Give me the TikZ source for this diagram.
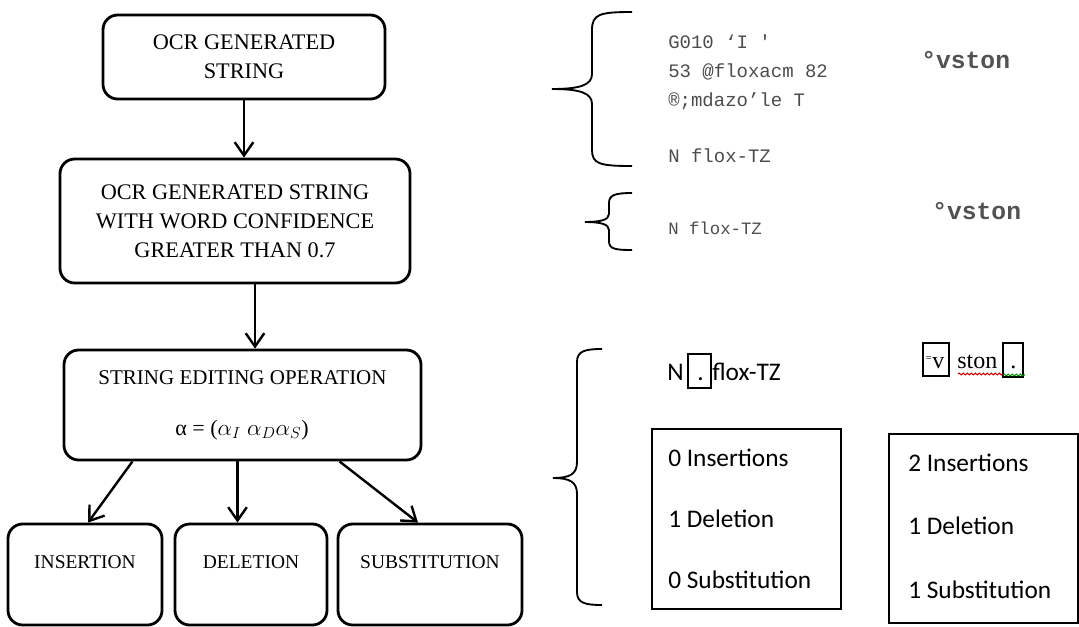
\documentclass[tikz,border=0pt]{standalone}
\usepackage{fontspec}
\setmainfont{Liberation Serif}
\setmonofont{Liberation Mono}
\newfontfamily\calib{Carlito}
\usetikzlibrary{arrows.meta,calc,decorations.pathmorphing}
\begin{document}
\begin{tikzpicture}[x=0.75pt,y=-0.75pt,
  box/.style={draw, line width=2.1pt, rounded corners=11pt, inner sep=0pt},
  flow/.style={-{Straight Barb[length=10pt,width=14pt,line width=1.8pt]}, line width=1.8pt},
  big/.style={font=\fontsize{16.7}{21.75}\selectfont, align=center, inner sep=0pt},
  mid/.style={font=\fontsize{15.75}{20}\selectfont, align=center, inner sep=0pt},
  small/.style={font=\fontsize{14.6}{18}\selectfont, inner sep=0pt},
  bracepath/.style={line width=1.4pt},
  ocr/.style={font=\ttfamily\fontsize{14.25}{17}\selectfont, text=black!70, anchor=base west, inner sep=0pt},
  ocrbig/.style={font=\ttfamily\bfseries\fontsize{18.5}{20}\selectfont, text=black!68, anchor=base west, inner sep=0pt},
  cal/.style={font=\calib\fontsize{19}{22}\selectfont, anchor=base west, inner sep=0pt},
  rbox/.style={draw, line width=1.4pt, inner sep=0pt},
  mark box/.style={draw, line width=1.4pt, inner sep=0pt},
  wavy/.style={line width=0.8pt, decorate, decoration={snake, amplitude=0.7pt, segment length=3pt}}
]
\useasboundingbox (0,0) rectangle (1079,626);

% flow boxes
\node[box, minimum width=211.5pt, minimum height=63pt] (ocr) at (244,57) {};
\node[big] (ocrt) at (ocr.center) {OCR GENERATED\\STRING};
\node[box, minimum width=262.5pt, minimum height=93pt] (conf) at (235,221) {};
\node[big] (conft) at (conf.center) {OCR GENERATED STRING\\WITH WORD CONFIDENCE\\GREATER THAN 0.7};
\node[box, minimum width=267.75pt, minimum height=82.5pt] (op) at (242.5,405) {};
\node[mid] (opt) at (242.5,378) {STRING EDITING OPERATION};
\node[mid, font=\fontsize{16.5}{20}\selectfont] (opf) at (242,430) {α = ($\alpha_I\;\alpha_D\alpha_S$)};
\node[box, minimum width=115.5pt, minimum height=75.75pt] (ins) at (85,574.5) {};
\node[small] (inst) at (85,562) {INSERTION};
\node[box, minimum width=114pt, minimum height=75.75pt] (del) at (251,574.5) {};
\node[small] (delt) at (251,562) {DELETION};
\node[box, minimum width=138pt, minimum height=75.75pt] (sub) at (430,574.5) {};
\node[small] (subt) at (430,562) {SUBSTITUTION};

% connectors
\draw[flow] (ocr.south) -- (ocr.south |- conf.north);
\coordinate (c2) at ($(conf.south)+(20,0)$);
\draw[flow] (c2) -- (c2 |- op.north);
\draw[flow] ($(op.south)+(-110,0)$) -- ($(ins.north)+(3,0)$);
\coordinate (c3) at ($(op.south)+(-5,0)$);
\draw[flow] (c3) -- (c3 |- del.north);
\draw[flow] ($(op.south)+(97,0)$) -- ($(sub.north)+(-12,0)$);

% braces
\draw[bracepath] (632,12) .. controls (600,12) and (592,14) .. (592,30) -- (592,74)
  .. controls (592,85) and (580,89) .. (552,89)
  .. controls (580,89) and (592,93) .. (592,104) -- (592,150)
  .. controls (592,164) and (600,166) .. (632,166);
\draw[bracepath] (632,193) .. controls (615,193) and (609,195) .. (609,203) -- (609,214)
  .. controls (609,220) and (600,222) .. (585,222)
  .. controls (600,222) and (609,224) .. (609,230) -- (609,241)
  .. controls (609,249) and (615,250) .. (632,250);
\draw[bracepath] (602,349) .. controls (585,349) and (577,351) .. (577,362) -- (577,462)
  .. controls (577,474) and (570,478) .. (553,478)
  .. controls (570,478) and (577,482) .. (577,494) -- (577,592)
  .. controls (577,603) and (585,605) .. (602,605);

% OCR texts
\node[ocr] (l1) at (668,48) {G010 ‘I '};
\node[ocr] (l2) at (668,77) {53 @floxacm 82};
\node[ocr] (l3) at (668,106) {®;mdazo’le T};
\node[ocr] (l4) at (668,162) {N flox-TZ};
\node[ocrbig] (v1) at (921,68) {°vston};
\node[ocr, font=\ttfamily\fontsize{13}{15}\selectfont] (l5) at (668,234) {N flox-TZ};
\node[ocrbig] (v2) at (932,219) {°vston};

% edited strings
\node[cal] (n1) at (667,380) {N};
\node[mark box, minimum width=17.25pt, minimum height=25.5pt] (d1) at (699.5,371) {};
\node[cal] (d1t) at (697,380) {.};
\node[cal] (f1) at (712,380) {flox-TZ};
\node[mark box, minimum width=19.5pt, minimum height=24.75pt] (ev) at (936,359.5) {};
\node[font=\fontsize{8}{8}\selectfont, inner sep=0pt] (eq) at (928.5,359) {=};
\node[font=\fontsize{18}{20}\selectfont, anchor=base west, inner sep=0pt] (vv) at (932,368) {v};
\node[font=\fontsize{18}{20}\selectfont, anchor=base west, inner sep=0pt] (st) at (957,368) {ston};
\node[mark box, minimum width=15pt, minimum height=25.5pt] (d2) at (1013,360) {};
\node[font=\fontsize{18}{20}\selectfont, anchor=base west, inner sep=0pt] (d2t) at (1010,368) {.};
\draw[wavy, red!80!black] (958,374) -- (1003,374);
\draw[wavy, green!55!black] (1003,375) -- (1025,375);

% result boxes
\node[rbox, minimum width=141.75pt, minimum height=135pt] (r1) at (746.5,519) {};
\node[cal] (r1a) at (668,466) {0 Insertions};
\node[cal] (r1b) at (668,527) {1 Deletion};
\node[cal] (r1c) at (668,588) {0 Substitution};
\node[rbox, minimum width=141.75pt, minimum height=141.75pt] (r2) at (983.5,528.5) {};
\node[cal] (r2a) at (908,471) {2 Insertions};
\node[cal] (r2b) at (908,534) {1 Deletion};
\node[cal] (r2c) at (908,598) {1 Substitution};
\end{tikzpicture}
\end{document}
